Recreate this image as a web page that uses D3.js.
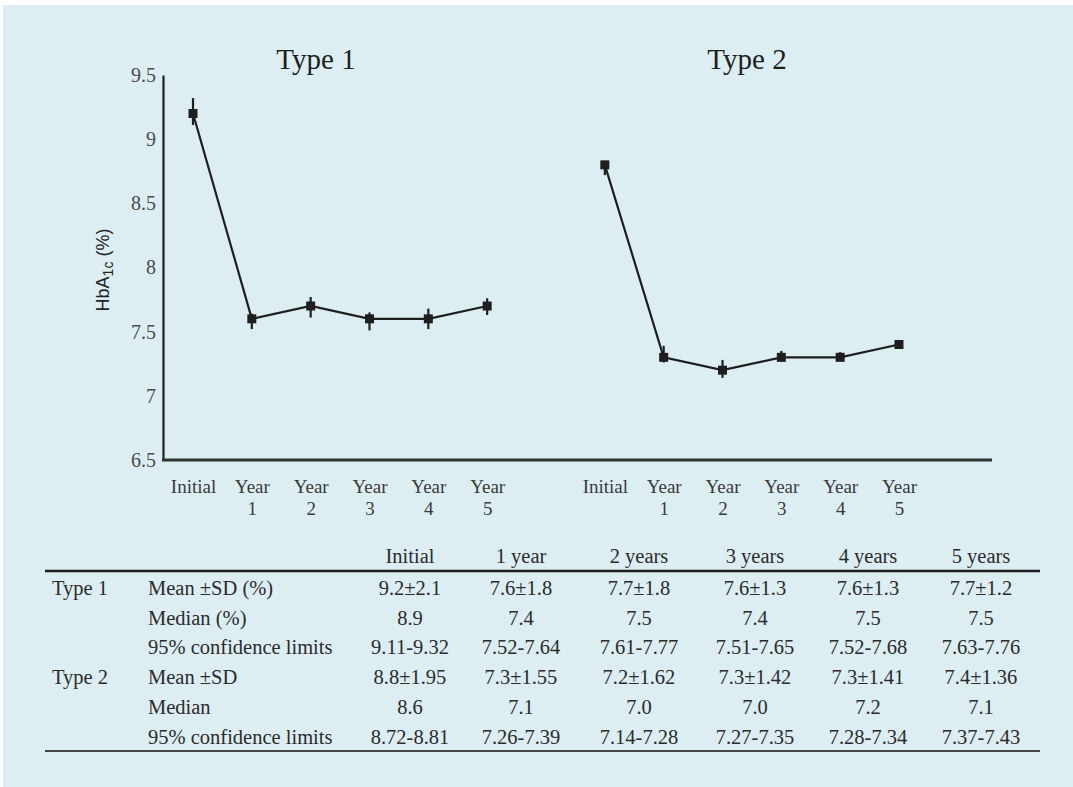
<!DOCTYPE html>
<html lang="en">
	<head>
		<meta charset="utf-8">
		<title>HbA1c by year</title>
		<script type="text/javascript" src="https://cdn.jsdelivr.net/npm/d3@7/dist/d3.min.js"></script>
		<style type="text/css">
			body { margin: 0; background: #ffffff; }
			text { font-family: "Liberation Serif", "Times New Roman", serif; fill: #2b2b2b; }
			text.sans, text.sans tspan { font-family: "Liberation Sans", Arial, sans-serif; }
		</style>
	</head>
	<body>
		<script type="text/javascript">

			let w = 1073;
			let h = 787;

			// x categories for each panel
			let categories = ["Initial", "Year 1", "Year 2", "Year 3", "Year 4", "Year 5"];
			let groups = ["Type 1", "Type 2"];

			// means and 95% confidence limits
			let type1Mean = [9.2, 7.6, 7.7, 7.6, 7.6, 7.7];
			let type1Low  = [9.11, 7.52, 7.61, 7.51, 7.52, 7.63];
			let type1High = [9.32, 7.64, 7.77, 7.65, 7.68, 7.76];
			let type2Mean = [8.8, 7.3, 7.2, 7.3, 7.3, 7.4];
			let type2Low  = [8.72, 7.26, 7.14, 7.27, 7.28, 7.37];
			let type2High = [8.81, 7.39, 7.28, 7.35, 7.34, 7.43];

			let yTicks = [6.5, 7, 7.5, 8, 8.5, 9, 9.5];

			// table
			let tableHeader = ["Initial", "1 year", "2 years", "3 years", "4 years", "5 years"];
			let rowGroups = ["Type 1", "", "", "Type 2", "", ""];
			let rowLabels = ["Mean \u00b1SD (%)", "Median (%)", "95% confidence limits",
							 "Mean \u00b1SD", "Median", "95% confidence limits"];
			let rowValues = [
				["9.2\u00b12.1", "7.6\u00b11.8", "7.7\u00b11.8", "7.6\u00b11.3", "7.6\u00b11.3", "7.7\u00b11.2"],
				["8.9", "7.4", "7.5", "7.4", "7.5", "7.5"],
				["9.11-9.32", "7.52-7.64", "7.61-7.77", "7.51-7.65", "7.52-7.68", "7.63-7.76"],
				["8.8\u00b11.95", "7.3\u00b11.55", "7.2\u00b11.62", "7.3\u00b11.42", "7.3\u00b11.41", "7.4\u00b11.36"],
				["8.6", "7.1", "7.0", "7.0", "7.2", "7.1"],
				["8.72-8.81", "7.26-7.39", "7.14-7.28", "7.27-7.35", "7.28-7.34", "7.37-7.43"]
			];

			let svg = d3.select("body")
						.append("svg")
						  .attr("width", w)
						  .attr("height", h);

			// panel background
			svg.append("rect")
				.attr("x", 3).attr("y", 5)
				.attr("width", w - 3).attr("height", h - 5)
				.attr("fill", "#ddeef3");

			// one x scale for both panels, with an empty slot between them
			let slots = [];
			groups.forEach((g, gi) => {
				categories.forEach(c => slots.push(g + "|" + c));
				if (gi === 0) slots.push("gap");
			});
			let x = d3.scalePoint().domain(slots).range([193, 899]);

			let y = d3.scaleLinear().domain([6.5, 9.5]).range([460, 75]);

			// y axis
			let yAxis = svg.append("g")
				.attr("transform", "translate(163,0)")
				.call(d3.axisLeft(y).tickValues(yTicks).tickSize(0).tickPadding(7).tickFormat(d => d));
			yAxis.select(".domain").attr("stroke", "#222").attr("stroke-width", 2.2);
			yAxis.selectAll("text")
				.attr("font-size", 20)
				.style("fill", "#4a4a4a");

			// x axis line
			svg.append("line")
				.attr("x1", 162).attr("x2", 992)
				.attr("y1", y(6.5)).attr("y2", y(6.5))
				.attr("stroke", "#333").attr("stroke-width", 3);

			// x labels
			let xAxis = svg.append("g")
				.attr("transform", `translate(0,${y(6.5)})`)
				.call(d3.axisBottom(x).tickValues(slots.filter(s => s !== "gap")).tickSize(0).tickPadding(0).tickFormat(""));
			xAxis.select(".domain").remove();
			xAxis.selectAll(".tick").each(function(d) {
				let lab = d.split("|")[1];
				let parts = lab.split(" ");
				let t = d3.select(this).append("text")
					.style("fill", "#3a3a3a")
					.attr("font-size", 19)
					.attr("text-anchor", "middle");
				parts.forEach((p, i) => {
					t.append("tspan").attr("x", 0).attr("y", 33 + i * 22).text(p);
				});
			});

			// y axis title
			let ylab = svg.append("text")
				.attr("class", "sans")
				.attr("transform", "translate(109,270) rotate(-90)")
				.attr("text-anchor", "middle")
				.attr("font-size", 18)
				.style("fill", "#222");
			ylab.append("tspan").text("HbA");
			ylab.append("tspan").attr("font-size", 14).attr("dy", 4).text("1c");
			ylab.append("tspan").attr("dy", -4).text(" (%)");

			// panel titles
			let titleX = [316, 747];
			groups.forEach((g, i) => {
				svg.append("text")
					.attr("x", titleX[i]).attr("y", 69)
					.attr("text-anchor", "middle")
					.attr("font-size", 29)
					.style("fill", "#1e1e1e")
					.text(g);
			});

			// series
			let series = [
				{ name: "Type 1", mean: type1Mean, low: type1Low, high: type1High },
				{ name: "Type 2", mean: type2Mean, low: type2Low, high: type2High }
			];

			let line = d3.line()
				.x(d => x(d.key))
				.y(d => y(d.mean));

			series.forEach(s => {
				let pts = categories.map((c, i) => ({
					key: s.name + "|" + c, mean: s.mean[i], low: s.low[i], high: s.high[i]
				}));
				let g = svg.append("g");
				g.append("path")
					.datum(pts)
					.attr("fill", "none")
					.attr("stroke", "#1e1e1e")
					.attr("stroke-width", 2.2)
					.attr("d", line);
				g.selectAll("line.err")
					.data(pts)
					.enter()
				  .append("line")
					.attr("class", "err")
					.attr("x1", d => x(d.key)).attr("x2", d => x(d.key))
					.attr("y1", d => y(d.high)).attr("y2", d => y(d.low))
					.attr("stroke", "#1e1e1e")
					.attr("stroke-width", 2.2);
				g.selectAll("rect.mk")
					.data(pts)
					.enter()
				  .append("rect")
					.attr("class", "mk")
					.attr("x", d => x(d.key) - 4.5)
					.attr("y", d => y(d.mean) - 4.5)
					.attr("width", 9).attr("height", 9)
					.attr("fill", "#1e1e1e");
			});

			// table
			let colX = [410, 521, 639, 755, 868, 981];
			let rowY = d3.range(rowLabels.length).map(i => 595 + i * 29.7);
			let fs = 20.5;

			svg.selectAll("text.hdr")
				.data(tableHeader)
				.enter()
			  .append("text")
				.attr("class", "hdr")
				.attr("x", (d, i) => colX[i]).attr("y", 563)
				.attr("text-anchor", "middle")
				.attr("font-size", fs)
				.text(d => d);

			svg.append("line")
				.attr("x1", 45).attr("x2", 1040)
				.attr("y1", 571).attr("y2", 571)
				.attr("stroke", "#1e1e1e").attr("stroke-width", 2.5);
			svg.append("line")
				.attr("x1", 45).attr("x2", 1040)
				.attr("y1", 751).attr("y2", 751)
				.attr("stroke", "#444").attr("stroke-width", 2);

			rowLabels.forEach((lab, r) => {
				svg.append("text")
					.attr("x", 52).attr("y", rowY[r])
					.attr("font-size", fs)
					.text(rowGroups[r]);
				svg.append("text")
					.attr("x", 148).attr("y", rowY[r])
					.attr("font-size", fs)
					.text(lab);
				svg.selectAll(null)
					.data(rowValues[r])
					.enter()
				  .append("text")
					.attr("x", (d, i) => colX[i]).attr("y", rowY[r])
					.attr("text-anchor", "middle")
					.attr("font-size", fs)
					.text(d => d);
			});

		</script>
	</body>
</html>
